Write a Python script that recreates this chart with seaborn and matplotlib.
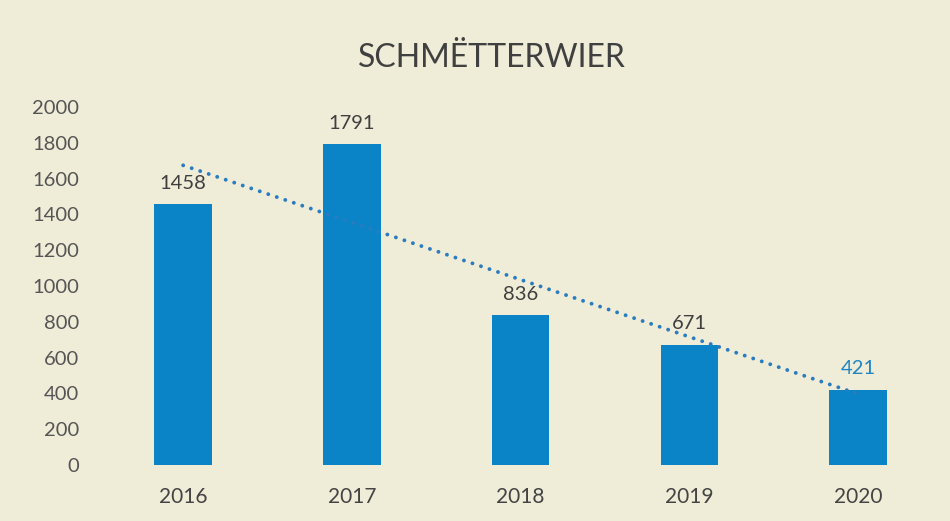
import matplotlib
matplotlib.use("Agg")
import matplotlib.pyplot as plt
import seaborn as sns
import numpy as np
import pandas as pd

years = ["2016", "2017", "2018", "2019", "2020"]
counts = [1458, 1791, 836, 671, 421]
label_colors = ["#3f3f3f", "#3f3f3f", "#3f3f3f", "#3f3f3f", "#1f86c6"]
yticks = [0, 200, 400, 600, 800, 1000, 1200, 1400, 1600, 1800, 2000]
title = "SCHMËTTERWIER"

sns.set_theme(style="white")
plt.rcParams['font.family'] = ['Lato', 'DejaVu Sans']

bg = "#efecd8"
bar_color = "#0a84c6"

fig = plt.figure(figsize=(9.5, 5.21), dpi=100, facecolor=bg)
ax = fig.add_axes([0.104, 0.1075, 0.888, 0.6871])
ax.set_facecolor(bg)

df = pd.DataFrame({"year": years, "count": counts})
sns.barplot(data=df, x="year", y="count", color=bar_color, width=0.34,
            saturation=1, ax=ax, edgecolor="none")

# linear trendline
xs = np.arange(len(counts))
coef = np.polyfit(xs, counts, 1)
ax.plot(xs, np.polyval(coef, xs), linestyle=(0, (0.01, 2.3)), color="#2a7cc0",
        linewidth=2.8, dash_capstyle="round", zorder=3)

for i, (v, c) in enumerate(zip(counts, label_colors)):
    ax.annotate(str(v), (i, v), xytext=(0, 9), textcoords="offset points",
                ha="center", va="bottom", fontsize=14.5, color=c, zorder=4)

ax.set_xlim(-0.5, 4.5)
ax.set_ylim(0, 2000)
ax.set_yticks(yticks)
ax.set_yticklabels([str(t) for t in yticks])
ax.tick_params(axis="y", labelsize=14.5, labelcolor="#555555", length=0, pad=14)
ax.tick_params(axis="x", labelsize=15, labelcolor="#444444", length=0, pad=16)
ax.set_xlabel("")
ax.set_ylabel("")
for s in ax.spines.values():
    s.set_visible(False)

fig.text(0.518, 0.888, title, ha="center", va="center", fontsize=23, color="#404040")

fig.savefig("out.png", dpi=100, facecolor=bg)
